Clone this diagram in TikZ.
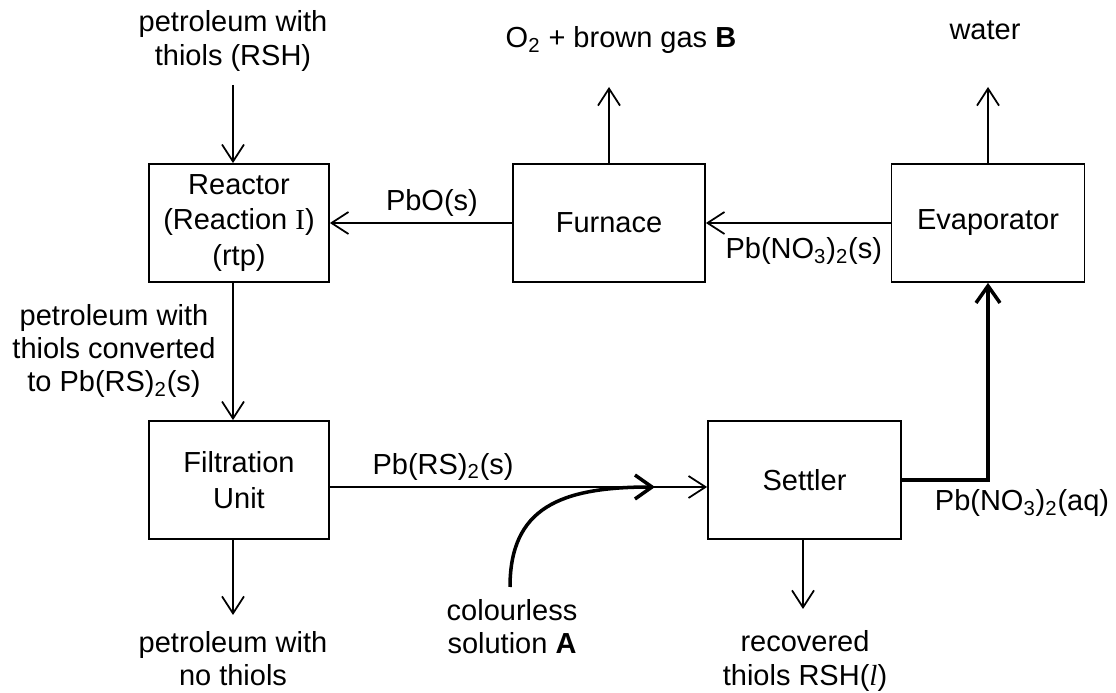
\documentclass[tikz,border=0pt]{standalone}
\usepackage{fontspec}
\setmainfont{Liberation Sans}
\newfontfamily\romanI{Liberation Serif}
\newcommand{\chsub}[1]{\textsubscript{#1}}
\usetikzlibrary{positioning,arrows.meta,calc}

\begin{document}
\begin{tikzpicture}[font=\fontsize{16.5}{18.8}\selectfont,
  unit/.style={draw, line width=1pt, minimum width=3.6cm, minimum height=2.36cm, align=center, inner sep=0pt},
  flow/.style={line width=1pt, -{Straight Barb[length=0.34cm, width=0.44cm, line width=1pt]}},
  bold flow/.style={line width=2pt, -{Straight Barb[length=0.34cm, width=0.48cm, line width=2pt]}},
  lbl/.style={align=center, inner sep=1pt}]
\useasboundingbox (0,0) rectangle (22.32,13.86);
% process units
\node[unit] (reactor) at (4.78,9.40) {Reactor\\[1.5pt](Reaction {\romanI I})\\[1.5pt](rtp)};
\node[unit, minimum width=3.84cm] (furnace) at (12.18,9.40) {Furnace};
\node[unit, minimum width=3.86cm] (evap) at (19.76,9.40) {Evaporator};
\node[unit] (filter) at (4.78,4.26) {Filtration\\[1.5pt]Unit};
\node[unit, minimum width=3.86cm] (settler) at (16.09,4.26) {Settler};
% free ends
\coordinate (feedin) at (4.66,12.16);
\coordinate (gasout) at (12.18,12.12);
\coordinate (waterout) at (19.76,12.12);
\coordinate (petout) at (4.66,1.56);
\coordinate (rshout) at (16.06,1.68);
\coordinate (solin) at (10.20,2.12);
\coordinate (mix) at (13.10,4.12);
% outside labels
\node[lbl] (feed) at (4.66,13.04) {petroleum with\\thiols (RSH)};
\node[lbl] (gas) at (12.42,13.06) {O\chsub{2} + brown gas \textbf{B}};
\node[lbl] (water) at (19.70,13.26) {water};
\node[lbl] (conv) at (2.28,6.84) {petroleum with\\thiols converted\\to Pb(RS)\chsub{2}(s)};
\node[lbl] (clean) at (4.66,0.68) {petroleum with\\no thiols};
\node[lbl] (sol) at (10.24,1.32) {colourless\\solution \textbf{A}};
\node[lbl] (rsh) at (16.10,0.64) {recovered\\thiols RSH({\romanI\itshape l})};
\node[lbl] (aq) at (20.44,3.80) {Pb(NO\chsub{3})\chsub{2}(aq)};
% streams
\draw[flow] (feedin) -- (feedin |- reactor.north);
\draw[flow] (furnace) -- node[above, pos=0.44] (pbo) {PbO(s)} (reactor);
\draw[flow] (evap) -- node[below, pos=0.47, yshift=-0.16cm] (nitrate) {Pb(NO\chsub{3})\chsub{2}(s)} (furnace);
\draw[flow] (furnace.north) -- (gasout);
\draw[flow] (evap.north) -- (waterout);
\draw[flow] (reactor.south -| feedin) -- (filter.north -| feedin);
\draw[flow] ([yshift=-0.14cm]filter.east) -- node[above, pos=0.3] (pbrs) {Pb(RS)\chsub{2}(s)} ([yshift=-0.14cm]settler.west);
\draw[flow] (filter.south -| petout) -- (petout);
\draw[flow] (settler.south -| rshout) -- (rshout);
\draw[bold flow] (solin) .. controls (10.20,3.70) and (11.20,4.12) .. (mix);
\draw[bold flow] (settler.east) -| (evap.south);
\end{tikzpicture}
\end{document}
